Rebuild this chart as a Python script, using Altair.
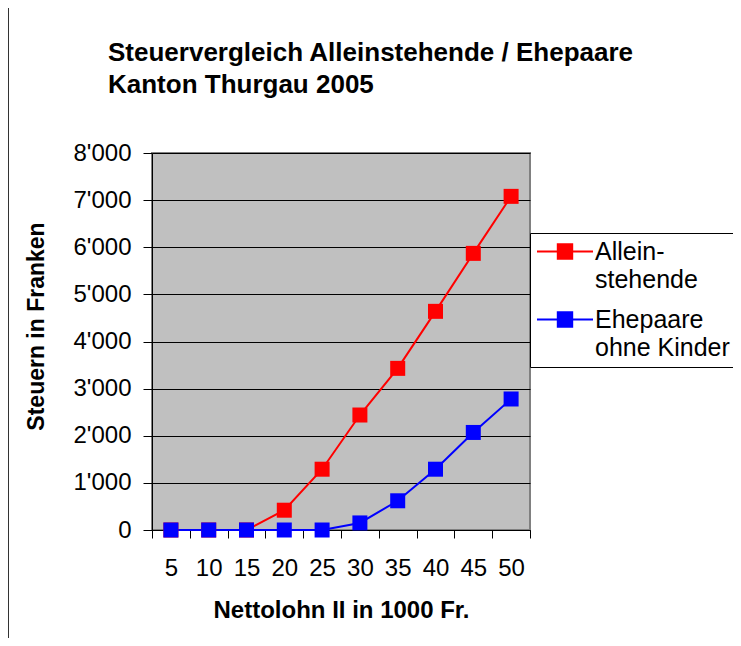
import altair as alt
import pandas as pd

# ---- data ----
income = [5, 10, 15, 20, 25, 30, 35, 40, 45, 50]
single = [0, 0, 0, 420, 1290, 2440, 3430, 4640, 5870, 7080]
married = [0, 0, 0, 0, 0, 150, 620, 1290, 2070, 2780]
series_names = ["Alleinstehende", "Ehepaare ohne Kinder"]
legend_labels = ["Allein-|stehende", "Ehepaare|ohne Kinder"]
series_colors = ["#FF0000", "#0000FF"]
y_ticks = [0, 1000, 2000, 3000, 4000, 5000, 6000, 7000, 8000]
title_lines = ["Steuervergleich Alleinstehende / Ehepaare", "Kanton Thurgau 2005"]

rows = []
for name, vals in zip(series_names, [single, married]):
    for x, v in zip(income, vals):
        rows.append({"Nettolohn": x, "Steuern": v, "Serie": name})
df = pd.DataFrame(rows)

FONT = "Liberation Sans"
W, H = 378, 377

label_expr = (
    "datum.label == '" + series_names[0] + "' ? split('" + legend_labels[0] + "', '|') : split('"
    + legend_labels[1] + "', '|')"
)

color = alt.Color(
    "Serie:N",
    scale=alt.Scale(domain=series_names, range=series_colors),
    title=None,
    legend=alt.Legend(
        orient="none",
        legendX=W,
        legendY=80,
        direction="vertical",
        fillColor="white",
        strokeColor="black",
        padding=6,
        rowPadding=14,
        symbolType="M-7,0H7M-1.8,-1.8H1.8V1.8H-1.8Z",
        symbolSize=64,
        symbolStrokeWidth=2,
        symbolOffset=16.5,
        labelOffset=17.5,
        labelFont=FONT,
        labelFontSize=25,
        labelColor="black",
        labelLimit=400,
        labelBaseline="middle",
        labelExpr=label_expr,
    ),
)

x_enc = alt.X(
    "Nettolohn:O",
    scale=alt.Scale(paddingInner=0, paddingOuter=0),
    axis=alt.Axis(
        title="Nettolohn II in 1000 Fr.",
        labelAngle=0,
        tickBand="extent",
        tickSize=8,
        tickColor="black",
        domainColor="black",
        labelPadding=18,
        labelFont=FONT,
        labelFontSize=24,
        labelColor="black",
        titleFont=FONT,
        titleFontSize=24,
        titleFontWeight="bold",
        titleColor="black",
        titleBaseline="alphabetic",
        titleY=87,
        grid=False,
    ),
)

y_enc = alt.Y(
    "Steuern:Q",
    scale=alt.Scale(domain=[0, 8000], nice=False),
    axis=alt.Axis(
        title="Steuern in Franken",
        values=y_ticks,
        labelExpr="replace(format(datum.value, ','), ',', \"'\")",
        tickSize=9,
        tickColor="black",
        domainColor="black",
        labelPadding=12,
        labelFont=FONT,
        labelFontSize=24,
        labelColor="black",
        titleFont=FONT,
        titleFontSize=23,
        titleFontWeight="bold",
        titleColor="black",
        titleBaseline="alphabetic",
        titleX=-109,
        titleY=173,
        grid=True,
        gridColor="black",
        gridOpacity=1,
        gridWidth=1,
    ),
)

base = alt.Chart(df)
lines = base.mark_line(strokeWidth=2).encode(x=x_enc, y=y_enc, color=color)
points = base.mark_point(shape="square", size=225, filled=True, opacity=1).encode(
    x=x_enc, y=y_enc, color=color
)

one = pd.DataFrame({"a": [0]})
frame = alt.Chart(one).mark_rect(
    fillOpacity=0, stroke="#333333", strokeWidth=2
).encode(
    x=alt.value(-144), x2=alt.value(700), y=alt.value(-146), y2=alt.value(600)
)

title = alt.Chart(one).mark_text(
    align="left",
    baseline="alphabetic",
    font=FONT,
    fontSize=26,
    fontWeight="bold",
    color="black",
    lineHeight=32,
).encode(x=alt.value(-44), y=alt.value(-92), text=alt.value(title_lines))

chart = (
    alt.layer(lines, points, frame, title)
    .properties(
        width=W,
        height=H,
        autosize=alt.AutoSizeParams(type="none"),
        padding={"left": 144, "top": 145, "right": 203, "bottom": 108},
    )
    .configure(
        background="white",
        style={"guide-label": {"lineHeight": 28}},
        view=alt.ViewConfig(fill="#C0C0C0", stroke="#808080", strokeWidth=2),
    )
)

chart.save("out.html", embed_options={"renderer": "svg", "actions": False})
